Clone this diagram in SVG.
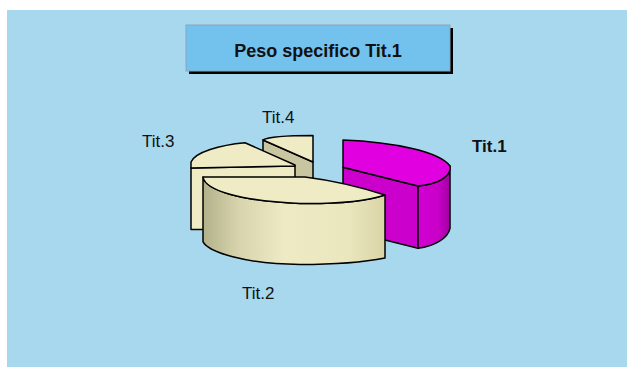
<svg xmlns="http://www.w3.org/2000/svg" width="627" height="367" viewBox="0 0 627 367">
  <defs>
    <linearGradient id="gCream" x1="203" y1="0" x2="385" y2="0" gradientUnits="userSpaceOnUse">
      <stop offset="0" stop-color="#B3B189"/>
      <stop offset="0.2" stop-color="#D8D5AE"/>
      <stop offset="0.45" stop-color="#EEEAC4"/>
      <stop offset="0.8" stop-color="#EAE6BD"/>
      <stop offset="1" stop-color="#D9D5A6"/>
    </linearGradient>
    <linearGradient id="gMag" x1="418" y1="0" x2="452" y2="0" gradientUnits="userSpaceOnUse">
      <stop offset="0" stop-color="#D200D2"/>
      <stop offset="0.6" stop-color="#C800C8"/>
      <stop offset="1" stop-color="#9A009A"/>
    </linearGradient>
    <style>
      .edge { stroke: #000; stroke-width: 1.5; stroke-linejoin: round; }
      .cream { fill: #EEEBC5; }
      .lbl { font-family: "Liberation Sans", Arial, sans-serif; font-size: 17px; fill: #111; }
    </style>
  </defs>

  <rect x="7" y="10" width="620" height="357" fill="#A8D8EE"/>

  <g id="title">
    <rect x="189" y="28" width="264" height="46" fill="#000"/>
    <rect x="186" y="25" width="264" height="46" fill="#73C2EE" stroke="#8AA6B8" stroke-width="1"/>
    <text x="318" y="57" text-anchor="middle" font-family="'Liberation Sans', Arial, sans-serif" font-size="18" font-weight="bold" fill="#111">Peso specifico Tit.1</text>
  </g>

  <g id="tit4">
    <path class="edge" fill="#C8C6A0" d="M263,140 L313,162 L313,180 L263,180 Z"/>
    <path class="edge cream" d="M263,140 C270,136 290,135.5 313,135.5 L313,162 Z"/>
    <text class="lbl" x="262" y="123">Tit.4</text>
  </g>

  <g id="tit3">
    <path class="edge cream" d="M191,168 L295,166 L295,229.5 L191,229.5 Z"/>
    <path class="edge cream" d="M191,168 L191,162 C195,152 220,145 245,142.7 L295,165 L295,166 Z"/>
    <text class="lbl" x="142" y="146.5">Tit.3</text>
  </g>

  <g id="tit1">
    <path class="edge" fill="#CC00CC" d="M343,167.3 L418,186 L418,248.3 L343,229.6 Z"/>
    <path class="edge" fill="url(#gMag)" d="M418,186 C440,184 452,175 450,166 L450,228.3 C448,238 435,246 418,248.3 Z"/>
    <path class="edge" fill="#E000E0" d="M343,140 C395,142 440,152 450,166 C452,175 440,184 418,186 L343,167.3 Z"/>
    <text class="lbl" x="472" y="151.5" font-weight="bold">Tit.1</text>
  </g>

  <g id="tit2">
    <path class="edge" fill="url(#gCream)" d="M203,177 C205,190 240,201 300,203.5 C340,204 370,200 385,195 L385,258 C370,261 340,264.5 300,264.5 C245,264 208,252 203,241.7 Z"/>
    <path class="edge cream" d="M203,177 L305,177 Q345,182 385,195 C370,200 340,204 300,203.5 C240,201 205,190 203,177 Z"/>
    <text class="lbl" x="242" y="299">Tit.2</text>
  </g>

  <g id="connectors"></g>
</svg>
